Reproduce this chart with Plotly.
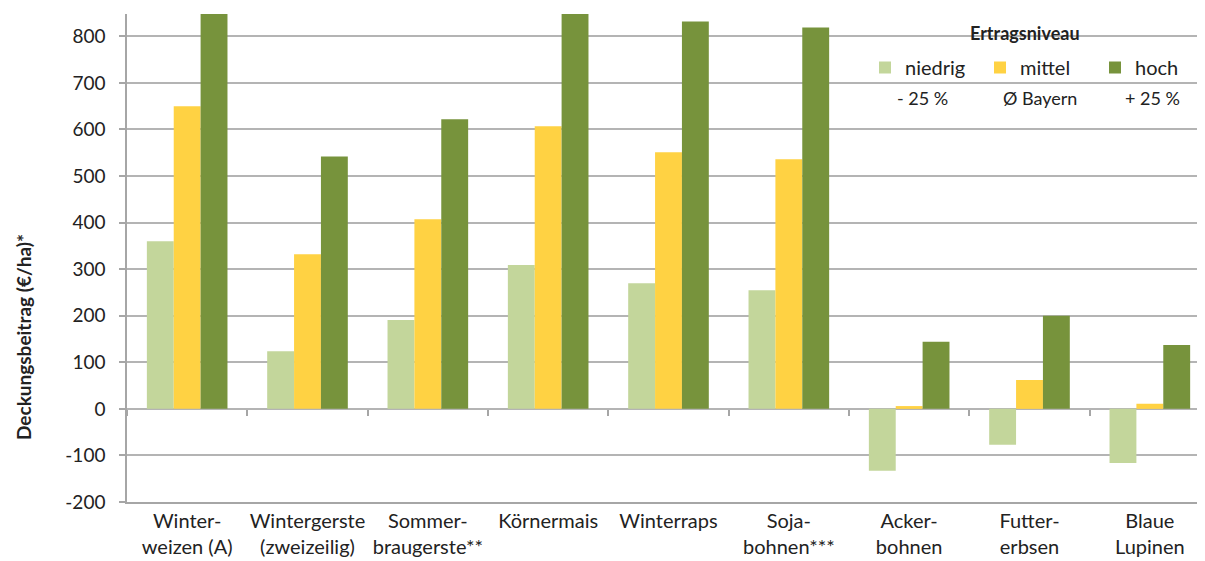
import plotly.graph_objects as go

categories = ["Winter-<br>weizen (A)", "Wintergerste<br>(zweizeilig)", "Sommer-<br>braugerste**",
              "Körnermais", "Winterraps", "Soja-<br>bohnen***", "Acker-<br>bohnen",
              "Futter-<br>erbsen", "Blaue<br>Lupinen"]
niedrig = [360, 124, 191, 309, 270, 255, -133, -77, -116]
mittel = [650, 332, 407, 607, 551, 536, 6, 62, 11]
hoch = [880, 542, 622, 880, 832, 819, 144, 200, 137]
series_names = ["niedrig", "mittel", "hoch"]
series_sub = ["- 25 %", "Ø Bayern", "+ 25 %"]
colors = ["#C3D69B", "#FFD243", "#77933C"]
y_ticks = [-200, -100, 0, 100, 200, 300, 400, 500, 600, 700, 800]
y_ticktext = [str(v) for v in y_ticks]

FONT = "Lato"
Y_MIN, Y_MAX = -200, 848
# the page body has an 8px margin; size the figure so the viewport layout matches
OFF = 8
W, H = 1205 - OFF, 561 - OFF
VX0, VY0, VX1, VY1 = 127, 14, 1205, 502  # plot area in viewport pixels
ML, MT = VX0 - OFF, VY0 - OFF
MR, MB = W - (VX1 - OFF), H - (VY1 - OFF)
PW, PH = VX1 - VX0, VY1 - VY0


def px_x(px):
    return (px - VX0) / PW


def px_y(py):
    return 1 - (py - VY0) / PH


fig = go.Figure()
for name, vals, col in zip(series_names, [niedrig, mittel, hoch], colors):
    fig.add_trace(go.Bar(x=categories, y=vals, name=name, marker_color=col,
                         marker_line_width=0))
# helper trace for the category tick marks on the zero line
fig.add_trace(go.Scatter(x=categories, y=[None] * len(categories), xaxis="x2",
                         showlegend=False, hoverinfo="skip"))

n = len(categories)
xr = [-0.5, n - 0.5 - 5 / 120.3]
zero_frac = (0 - Y_MIN) / (Y_MAX - Y_MIN)

fig.update_layout(
    width=W, height=H,
    margin=dict(l=ML, r=MR, t=MT, b=MB, autoexpand=False),
    plot_bgcolor="white", paper_bgcolor="white",
    font=dict(family=FONT, size=15, color="#222"),
    barmode="group", bargap=0.33, bargroupgap=0,
    xaxis=dict(type="category", categoryarray=categories, range=xr,
               showline=True, linecolor="#a6a6a6", linewidth=1.5,
               ticks="", showgrid=False, tickfont=dict(size=20, family=FONT),
               ticklabelstandoff=0),
    xaxis2=dict(type="category", categoryarray=categories, range=xr,
                overlaying="x", anchor="free", position=zero_frac,
                showline=False, ticks="outside", tickson="boundaries",
                ticklen=6, tickwidth=1.5, tickcolor="#a6a6a6",
                showticklabels=False, showgrid=False),
    yaxis=dict(range=[Y_MIN, Y_MAX], tickvals=y_ticks, ticktext=y_ticktext,
               showgrid=True,
               gridcolor="#b4b4b4", gridwidth=1.5, zeroline=True,
               zerolinecolor="#b4b4b4", zerolinewidth=1.5,
               showline=True, linecolor="#a6a6a6", linewidth=1.5,
               ticks="outside", ticklen=6, tickcolor="#a6a6a6", tickwidth=1.5,
               tickfont=dict(size=19, family=FONT), ticklabelstandoff=10),
    legend=dict(orientation="h", x=px_x(865), xanchor="left",
                y=px_y(48), yanchor="top",
                font=dict(size=20, family=FONT), itemwidth=30,
                entrywidth=70, bgcolor="rgba(0,0,0,0)", traceorder="normal"),
    showlegend=True,
)

ann = [
    dict(text="<b>Deckungsbeitrag (€/ha)*</b>", textangle=-90, xref="paper", yref="paper",
         x=px_x(23), y=px_y(337),
         showarrow=False, font=dict(size=19, family=FONT), xanchor="center", yanchor="middle"),
    dict(text="<b>Ertragsniveau</b>", xref="paper", yref="paper",
         x=px_x(1025), y=px_y(33), showarrow=False,
         font=dict(size=18, family=FONT), xanchor="center", yanchor="middle"),
]
sub_px = [922, 1040, 1152]
for t, px in zip(series_sub, sub_px):
    ann.append(dict(text=t, xref="paper", yref="paper", x=px_x(px),
                    y=px_y(98), showarrow=False,
                    font=dict(size=18, family=FONT), xanchor="center", yanchor="middle"))
fig.update_layout(annotations=ann)

fig.write_html("out.html")
